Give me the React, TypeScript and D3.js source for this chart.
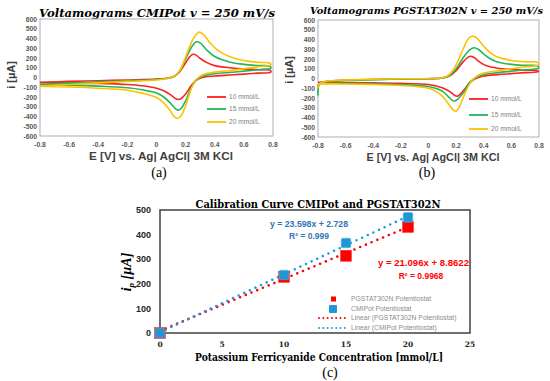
import React from "react";
import * as d3 from "d3";

type Pt = [number, number];

// ---- Panel (a): CMIPot voltammograms [E (V), i (µA)] ----
const cmipot10: Pt[] = [
  [-0.8, -48], [-0.6, -40], [-0.4, -33], [-0.2, -25], [0, -15], [0.08, -5], [0.12, 10], [0.16, 60], [0.2, 150],
  [0.23, 215], [0.25, 238], [0.27, 232], [0.3, 195], [0.35, 150], [0.4, 122], [0.5, 100], [0.6, 88], [0.7, 80], [0.78, 75],
  [0.785, 55], [0.7, 45], [0.6, 35], [0.5, 25], [0.4, 15], [0.33, 5], [0.28, -20], [0.24, -80], [0.2, -170], [0.17, -215],
  [0.15, -225], [0.13, -215], [0.1, -180], [0.05, -135], [0, -110], [-0.1, -85], [-0.2, -72], [-0.4, -60], [-0.6, -54], [-0.8, -50],
];
const cmipot15: Pt[] = [
  [-0.8, -70], [-0.6, -58], [-0.4, -45], [-0.2, -33], [0, -20], [0.08, -8], [0.12, 10], [0.16, 70], [0.2, 190],
  [0.24, 310], [0.27, 365], [0.3, 355], [0.34, 290], [0.4, 215], [0.5, 160], [0.6, 135], [0.7, 122], [0.78, 115],
  [0.785, 95], [0.7, 80], [0.6, 65], [0.5, 52], [0.4, 38], [0.33, 20], [0.28, -15], [0.24, -100], [0.2, -240], [0.17, -315],
  [0.15, -335], [0.13, -320], [0.1, -270], [0.05, -200], [0, -160], [-0.1, -125], [-0.2, -105], [-0.4, -88], [-0.6, -78], [-0.8, -72],
];
const cmipot20: Pt[] = [
  [-0.8, -88], [-0.6, -72], [-0.4, -55], [-0.2, -40], [0, -25], [0.08, -8], [0.12, 10], [0.16, 70], [0.2, 210],
  [0.25, 390], [0.29, 465], [0.32, 445], [0.36, 370], [0.42, 280], [0.5, 215], [0.6, 175], [0.7, 155], [0.78, 148],
  [0.785, 130], [0.7, 110], [0.6, 90], [0.5, 70], [0.4, 55], [0.33, 35], [0.28, -10], [0.24, -110], [0.2, -290], [0.17, -390],
  [0.145, -420], [0.12, -400], [0.09, -330], [0.05, -260], [0, -205], [-0.1, -160], [-0.2, -130], [-0.4, -110], [-0.6, -98], [-0.8, -90],
];

// ---- Panel (b): PGSTAT302N voltammograms ----
const pgstat10: Pt[] = [
  [-0.8, -90], [-0.79, -45], [-0.7, -25], [-0.6, -18], [-0.4, -10], [-0.2, -5], [0, -2], [0.1, 5], [0.15, 25], [0.2, 80],
  [0.25, 170], [0.3, 228], [0.33, 215], [0.37, 170], [0.42, 130], [0.5, 105], [0.6, 92], [0.7, 85], [0.79, 80],
  [0.795, 70], [0.7, 60], [0.6, 50], [0.5, 40], [0.4, 25], [0.35, 5], [0.3, -40], [0.26, -110], [0.23, -160], [0.21, -182],
  [0.19, -175], [0.16, -140], [0.1, -95], [0.05, -75], [0, -62], [-0.2, -50], [-0.4, -45], [-0.6, -42], [-0.8, -40],
];
const pgstat15: Pt[] = [
  [-0.8, -175], [-0.79, -60], [-0.75, -35], [-0.6, -20], [-0.4, -12], [-0.2, -6], [0, -2], [0.1, 5], [0.15, 30], [0.2, 100],
  [0.25, 210], [0.3, 295], [0.33, 315], [0.36, 300], [0.4, 250], [0.45, 200], [0.5, 170], [0.6, 145], [0.7, 135], [0.79, 130],
  [0.795, 105], [0.7, 90], [0.6, 75], [0.5, 60], [0.4, 40], [0.35, 15], [0.3, -40], [0.25, -150], [0.21, -215], [0.19, -230],
  [0.17, -222], [0.14, -180], [0.1, -130], [0.05, -100], [0, -82], [-0.2, -62], [-0.4, -55], [-0.6, -50], [-0.8, -48],
];
const pgstat20: Pt[] = [
  [-0.8, -100], [-0.79, -55], [-0.75, -30], [-0.6, -15], [-0.4, -8], [-0.2, -3], [0, 0], [0.1, 8], [0.15, 40], [0.2, 140],
  [0.25, 300], [0.29, 410], [0.32, 435], [0.35, 415], [0.4, 330], [0.45, 260], [0.5, 220], [0.6, 185], [0.7, 170], [0.79, 165],
  [0.795, 140], [0.7, 120], [0.6, 100], [0.5, 80], [0.4, 55], [0.35, 25], [0.3, -50], [0.25, -200], [0.22, -300], [0.2, -335],
  [0.18, -325], [0.15, -270], [0.1, -180], [0.05, -130], [0, -100], [-0.2, -72], [-0.4, -62], [-0.6, -56], [-0.8, -55],
];

const cvLabels = ["10 mmol/L", "15 mmol/L", "20 mmol/L"];
const cvXTicks = [-0.8, -0.6, -0.4, -0.2, 0, 0.2, 0.4, 0.6, 0.8];
const cvYTicks = [-600, -500, -400, -300, -200, -100, 0, 100, 200, 300, 400, 500, 600];

// ---- Panel (c): calibration ----
const calConc = [0, 10, 15, 20];
const pgstatPeak = [0, 228, 314, 431];
const cmipotPeak = [0, 236, 366, 470];
const pgstatSlope = 21.096;
const pgstatIntercept = 8.8622;
const cmipotSlope = 23.598;
const cmipotIntercept = 2.728;
const calXTicks = [0, 5, 10, 15, 20, 25];
const calYTicks = [0, 100, 200, 300, 400, 500];
const calLegend = [
  "PGSTAT302N Potentiostat",
  "CMIPot Potentiostat",
  "Linear (PGSTAT302N Potentiostat)",
  "Linear (CMIPot Potentiostat)",
];

const CV_COLORS = ["#ff2020", "#1fb85a", "#ffc000"];
const SANS = "'Liberation Sans', Arial, sans-serif";
const SERIF = "'DejaVu Serif', 'Liberation Serif', serif";
const SERIF2 = "'Liberation Serif', serif";

type CVProps = {
  left: number; right: number; top: number; bottom: number;
  series: Pt[][];
  title: string; titleX0: number; titleW: number; titleY: number; titleSize: number;
  yLabelX: number; yLabelY: number;
  axisTitleX: number; axisTitleY: number; axisTitleW: number;
  tagX: number; tagY: number; tag: string;
  legX: number; legRows: number[];
};

function CVPanel(p: CVProps) {
  const x = d3.scaleLinear().domain([-0.8, 0.8]).range([p.left, p.right]);
  const y = d3.scaleLinear().domain([-600, 600]).range([p.bottom, p.top]);
  const line = d3.line<Pt>().x(d => x(d[0])).y(d => y(d[1])).curve(d3.curveCatmullRom.alpha(0.5));
  return (
    <g>
      <text x={p.titleX0} y={p.titleY} fontFamily={SERIF} fontWeight="bold" fontStyle="italic" fontSize={p.titleSize}
        textLength={p.titleW} lengthAdjust="spacingAndGlyphs" fill="#000">{p.title}</text>
      <rect x={p.left} y={p.top} width={p.right - p.left} height={p.bottom - p.top} fill="none" stroke="#a6a6a6" strokeWidth={0.9} />
      {cvYTicks.map(v => (
        <text key={"y" + v} x={p.left - 3} y={y(v) + 2.5} textAnchor="end" fontFamily={SANS} fontWeight="bold" fontSize={6.8} fill="#595959">{v}</text>
      ))}
      {cvXTicks.map(v => (
        <text key={"x" + v} x={x(v)} y={p.bottom + 11} textAnchor="middle" fontFamily={SANS} fontWeight="bold" fontSize={6.8} fill="#595959">{String(+v.toFixed(1))}</text>
      ))}
      {p.series.map((s, i) => (
        <path key={i} d={line(s) || ""} fill="none" stroke={CV_COLORS[i]} strokeWidth={1.6} />
      ))}
      {cvLabels.map((l, i) => (
        <g key={l}>
          <line x1={p.legX} x2={p.legX + 19} y1={p.legRows[i]} y2={p.legRows[i]} stroke={CV_COLORS[i]} strokeWidth={1.8} />
          <text x={p.legX + 22} y={p.legRows[i] + 2.4} fontFamily={SANS} fontSize={6.6} fill="#808080">{l}</text>
        </g>
      ))}
      <text transform={`translate(${p.yLabelX},${p.yLabelY}) rotate(-90)`} textAnchor="middle" fontFamily={SANS} fontWeight="bold" fontSize={11} fill="#404040">i [µA]</text>
      <text x={p.axisTitleX} y={p.axisTitleY} textAnchor="middle" fontFamily={SANS} fontWeight="bold" fontSize={11} fill="#404040"
        textLength={p.axisTitleW} lengthAdjust="spacingAndGlyphs">E [V] vs. Ag| AgCl| 3M KCl</text>
      <text x={p.tagX} y={p.tagY} textAnchor="middle" fontFamily={SERIF2} fontSize={14} fill="#000">{p.tag}</text>
    </g>
  );
}

function CalPanel() {
  const L = 160, R = 470, T = 210, B = 333;
  const x = d3.scaleLinear().domain([0, 25]).range([L, R]);
  const y = d3.scaleLinear().domain([0, 500]).range([B, T]);
  const fitLine = (m: number, b: number) =>
    d3.line<number>().x(d => x(d)).y(d => y(m * d + b))([calConc[0], calConc[calConc.length - 1]]) || "";
  const dotStyle = { strokeWidth: 2.6, strokeDasharray: "0 6.2", strokeLinecap: "round" as const };
  return (
    <g>
      <text x={318} y={208} textAnchor="middle" fontFamily={SERIF} fontWeight="bold" fontSize={11}
        textLength={245} lengthAdjust="spacingAndGlyphs" fill="#000">Calibration Curve CMIPot and PGSTAT302N</text>
      <rect x={L} y={T} width={R - L} height={B - T} fill="none" stroke="#404040" strokeWidth={1.5} />
      {calYTicks.map(v => (
        <text key={"y" + v} x={L - 9} y={y(v) + 3.2} textAnchor="end" fontFamily={SANS} fontWeight="bold" fontSize={9} fill="#262626">{v}</text>
      ))}
      {calXTicks.map(v => (
        <text key={"x" + v} x={x(v)} y={B + 14} textAnchor="middle" fontFamily={SERIF} fontWeight="bold" fontSize={7.5} fill="#262626">{v}</text>
      ))}
      <path d={fitLine(pgstatSlope, pgstatIntercept)} fill="none" stroke="#ff0000" {...dotStyle} />
      <path d={fitLine(cmipotSlope, cmipotIntercept)} fill="none" stroke="#1f9ade" {...dotStyle} />
      {calConc.map((c, i) => (
        <rect key={"r" + i} x={x(c) - 5.5} y={y(pgstatPeak[i]) - 5.5} width={11} height={11} fill="#ff0000" stroke="#ff3030" strokeWidth={0.5} />
      ))}
      {calConc.map((c, i) => (
        <rect key={"b" + i} x={x(c) - 4.8} y={y(cmipotPeak[i]) - 4.8} width={9.6} height={9.6} rx={1.5} fill="#2196d6" stroke="#5bb5e6" strokeWidth={0.6} />
      ))}
      <text x={309} y={227} textAnchor="middle" fontFamily={SANS} fontWeight="bold" fontSize={8.5} fill="#2e75b6"
        textLength={78} lengthAdjust="spacingAndGlyphs">{`y = ${cmipotSlope}x + ${cmipotIntercept}`}</text>
      <text x={309} y={239} textAnchor="middle" fontFamily={SANS} fontWeight="bold" fontSize={8.5} fill="#2e75b6">R² = 0.999</text>
      <text x={378} y={266} fontFamily={SANS} fontWeight="bold" fontSize={8.5} fill="#ff0000"
        textLength={91} lengthAdjust="spacingAndGlyphs">{`y = ${pgstatSlope}x + ${pgstatIntercept}`}</text>
      <text x={421} y={279} textAnchor="middle" fontFamily={SANS} fontWeight="bold" fontSize={8.5} fill="#ff0000">R² = 0.9968</text>
      {/* legend */}
      <rect x={331} y={296.5} width={5} height={5} fill="#ff0000" />
      <rect x={329} y={305} width={8} height={8} rx={1} fill="#2196d6" />
      <line x1={319} x2={348} y1={318} y2={318} stroke="#ff0000" {...dotStyle} strokeWidth={2} strokeDasharray="0 4.3" />
      <line x1={319} x2={348} y1={328} y2={328} stroke="#1f9ade" {...dotStyle} strokeWidth={2} strokeDasharray="0 4.3" />
      {calLegend.map((t, i) => (
        <text key={t} x={351} y={[299, 309, 318, 328][i] + 2.4} fontFamily={SANS} fontSize={6.8} fill="#8c8c8c">{t}</text>
      ))}
      <text transform="translate(131,272) rotate(-90)" textAnchor="middle" fontFamily={SERIF2} fontStyle="italic" fontWeight="bold" fontSize={14} fill="#000">
        i<tspan fontSize={9} dy={3}>p</tspan><tspan dy={-3}> [µA]</tspan>
      </text>
      <text x={319} y={361} textAnchor="middle" fontFamily={SERIF} fontWeight="bold" fontSize={11}
        textLength={248} lengthAdjust="spacingAndGlyphs" fill="#000">Potassium Ferricyanide Concentration [mmol/L]</text>
      <text x={330} y={377} textAnchor="middle" fontFamily={SERIF2} fontSize={14} fill="#000">(c)</text>
    </g>
  );
}

export default function App() {
  return (
    <svg width={550} height={381} style={{ position: "absolute", left: 0, top: 0, background: "#fff" }}>
      <rect width={550} height={381} fill="#fff" />
      <CVPanel left={40} right={273} top={19} bottom={136} series={[cmipot10, cmipot15, cmipot20]}
        title="Voltamograms CMIPot v = 250 mV/s" titleX0={39} titleW={236} titleY={17} titleSize={11}
        yLabelX={15} yLabelY={75} axisTitleX={161} axisTitleY={160} axisTitleW={144}
        tagX={159} tagY={177} tag="(a)" legX={207} legRows={[97, 109, 122]} />
      <CVPanel left={318} right={539} top={20} bottom={137} series={[pgstat10, pgstat15, pgstat20]}
        title="Voltamograms PGSTAT302N v = 250 mV/s" titleX0={310} titleW={233} titleY={14} titleSize={10}
        yLabelX={293} yLabelY={70} axisTitleX={433} axisTitleY={161} axisTitleW={133}
        tagX={427} tagY={177} tag="(b)" legX={469} legRows={[99, 115, 129]} />
      <CalPanel />
    </svg>
  );
}
